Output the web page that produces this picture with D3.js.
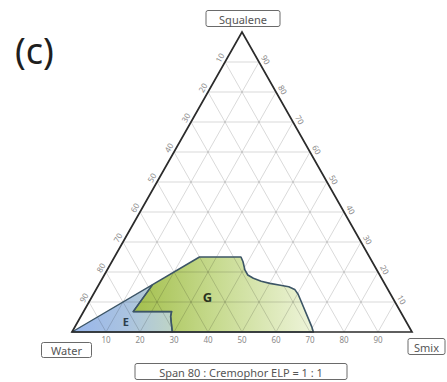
<!DOCTYPE html>
<html>
<head>
<meta charset="utf-8">
<script src="https://cdn.jsdelivr.net/npm/d3@7/dist/d3.min.js"></script>
<style>
  html, body { margin: 0; padding: 0; background: #fff; }
  svg { display: block; font-family: "Noto Sans", "Open Sans", sans-serif; }
</style>
</head>
<body>
<svg id="chart" width="447" height="382"></svg>
<script>
// Ternary phase diagram: Water / Squalene / Smix (Span 80 : Cremophor ELP = 1 : 1)
// Every point is [smix %, squalene %]; water % is the remainder.
const tickValues = [10, 20, 30, 40, 50, 60, 70, 80, 90];

// Region E (blue) — from the water corner up to the squalene = smix line
const regionE = [
  [0, 0], [15.8, 15.8], [14.6, 6.8], [25.9, 6.8], [26.4, 5.2], [29.5, 0]
];

// Region G (green)
const regionG = [
  [15.8, 15.8], [25, 25], [37.2, 25], [38.6, 23.4], [40.5, 20.7],
  [42.2, 19.0], [44.4, 17.9], [47.2, 16.9], [50.1, 16.2], [53.5, 15.6],
  [56.2, 15.1], [58.4, 14.2], [60.2, 12.6], [61.6, 11.0], [69.6, 1.8],
  [71, 0], [29.5, 0], [26.4, 5.2], [25.9, 6.8], [14.6, 6.8]
];

const cornerNames = { top: "Squalene", left: "Water", right: "Smix" };
const caption = "Span 80 : Cremophor ELP = 1 : 1";
const panelTag = "(c)";

const svg = d3.select("#chart");

// Triangle frame: water corner, smix corner, squalene apex
const x0 = 72, x1 = 412, yBase = 332, yTop = 32;
const xs = d3.scaleLinear().domain([0, 100]).range([x0, x1]);   // smix + squalene/2
const ys = d3.scaleLinear().domain([0, 100]).range([yBase, yTop]); // squalene
const px = ([s, q]) => [xs(s + q / 2), ys(q)];

const defs = svg.append("defs");
const gradG = defs.append("linearGradient").attr("id", "gG")
  .attr("gradientUnits", "userSpaceOnUse")
  .attr("x1", px([14.6, 6.8])[0]).attr("x2", px([71, 0])[0]).attr("y1", 0).attr("y2", 0);
[[0, "#a3bf4c"], [0.45, "#c6da8e"], [1, "#eef4da"]].forEach(([o, c]) =>
  gradG.append("stop").attr("offset", o).attr("stop-color", c));
const gradE = defs.append("linearGradient").attr("id", "gE")
  .attr("gradientUnits", "userSpaceOnUse")
  .attr("x1", x0).attr("x2", px([29.5, 0])[0]).attr("y1", 0).attr("y2", 0);
[[0, "#98b6ec"], [0.55, "#aac3e0"], [1, "#bed4c6"]].forEach(([o, c]) =>
  gradE.append("stop").attr("offset", o).attr("stop-color", c));

const poly = d3.line().x(d => px(d)[0]).y(d => px(d)[1]).curve(d3.curveLinearClosed);

// region fills
svg.append("path").attr("d", poly(regionE)).attr("fill", "url(#gE)");
svg.append("path").attr("d", poly(regionG)).attr("fill", "url(#gG)");

// grid lines parallel to each side
const grid = svg.append("g").attr("stroke", "rgba(0,0,0,0.17)").attr("stroke-width", 0.9).attr("fill", "none");
tickValues.forEach(v => {
  const segs = [
    [[0, v], [100 - v, v]],          // constant squalene
    [[v, 0], [v, 100 - v]],          // constant smix
    [[100 - v, 0], [0, 100 - v]]     // constant water
  ];
  segs.forEach(([a, b]) => {
    const [ax, ay] = px(a), [bx, by] = px(b);
    grid.append("line").attr("x1", ax).attr("y1", ay).attr("x2", bx).attr("y2", by);
  });
});

// region outlines
const outline = d3.line().x(d => px(d)[0]).y(d => px(d)[1]).curve(d3.curveLinearClosed);
svg.append("path").attr("d", outline(regionE)).attr("fill", "none")
  .attr("stroke", "#3c5566").attr("stroke-width", 1.3).attr("stroke-linejoin", "round");
svg.append("path").attr("d", outline(regionG)).attr("fill", "none")
  .attr("stroke", "#3c5566").attr("stroke-width", 1.6).attr("stroke-linejoin", "round");

// triangle frame
const corners = [[0, 0], [100, 0], [0, 100]];
svg.append("path").attr("d", poly(corners)).attr("fill", "none")
  .attr("stroke", "#2b2b2b").attr("stroke-width", 1.7).attr("stroke-linejoin", "miter");

// tick labels
const tickG = svg.append("g").attr("fill", "#8a8a8a").attr("font-size", 8)
  .attr("text-anchor", "middle").attr("dominant-baseline", "central");
tickValues.forEach(v => {
  // bottom: smix
  const [bx, by] = px([v, 0]);
  tickG.append("text").attr("x", bx).attr("y", by + 7.5).text(v);
  // left: water
  const [lx, ly] = px([0, 100 - v]);
  tickG.append("text").attr("transform", `translate(${lx - 5.5},${ly - 4.5}) rotate(-60)`).text(v);
  // right: squalene
  const [rx, ry] = px([100 - v, v]);
  tickG.append("text").attr("transform", `translate(${rx + 7},${ry - 2.5}) rotate(60)`).text(v);
});

// region letters
svg.append("text").attr("x", px([13.5, 3.5])[0] + 2).attr("y", 321.5)
  .attr("text-anchor", "middle").attr("dominant-baseline", "central")
  .attr("font-size", 11).attr("font-weight", "bold").attr("fill", "#2c3e4c").text("E");
svg.append("text").attr("x", 207.5).attr("y", 296.5)
  .attr("text-anchor", "middle").attr("dominant-baseline", "central")
  .attr("font-size", 13).attr("font-weight", "bold").attr("fill", "#2a3320").text("G");

// boxed labels
function boxLabel(cx, cy, w, h, label) {
  const g = svg.append("g");
  g.append("rect").attr("x", cx - w / 2).attr("y", cy - h / 2).attr("width", w).attr("height", h)
    .attr("rx", 2).attr("fill", "#fff").attr("stroke", "#6a6a6a").attr("stroke-width", 1);
  g.append("text").attr("x", cx).attr("y", cy + 0.5).attr("text-anchor", "middle")
    .attr("dominant-baseline", "central").attr("font-size", 11).attr("fill", "#555").text(label);
}
boxLabel(243, 18.5, 74, 16, cornerNames.top);
boxLabel(66.5, 350, 50, 15, cornerNames.left);
boxLabel(426.5, 346.5, 37, 16, cornerNames.right);
boxLabel(241, 371.5, 212, 16, caption);

// panel tag
svg.append("text").attr("x", 15).attr("y", 64).attr("font-size", 36)
  .attr("fill", "#1e1e1e").text(panelTag);
</script>
</body>
</html>
